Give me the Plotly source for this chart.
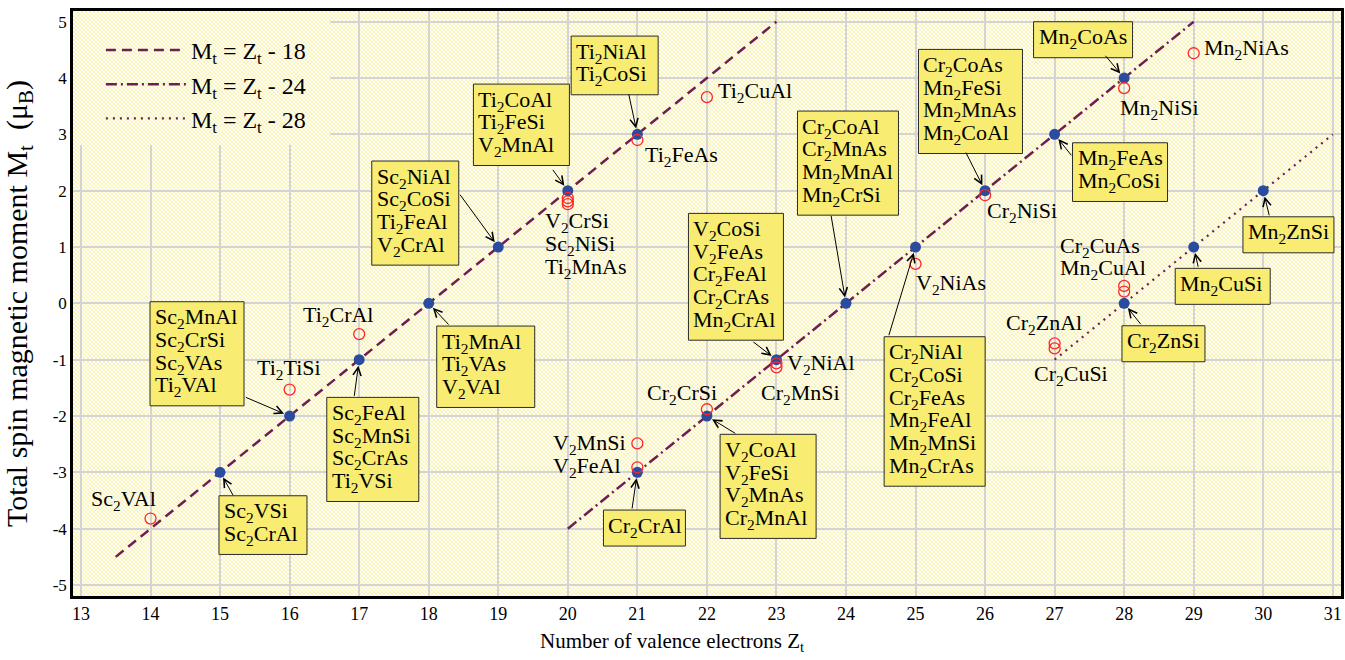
import base64
import plotly.graph_objects as go

# ---------------- data ----------------
# half-metallic compounds following the Slater-Pauling rules (blue dots)
half_z = [15, 16, 17, 18, 19, 20, 21, 21, 22, 23, 24, 25, 26, 27, 28, 28, 29, 30]
half_m = [-3, -2, -1, 0, 1, 2, 3, -3, -2, -1, 0, 1, 2, 3, 4, 0, 1, 2]
half_groups = [
    ["Sc2VSi", "Sc2CrAl"],
    ["Sc2MnAl", "Sc2CrSi", "Sc2VAs", "Ti2VAl"],
    ["Sc2FeAl", "Sc2MnSi", "Sc2CrAs", "Ti2VSi"],
    ["Ti2MnAl", "Ti2VAs", "V2VAl"],
    ["Sc2NiAl", "Sc2CoSi", "Ti2FeAl", "V2CrAl"],
    ["Ti2CoAl", "Ti2FeSi", "V2MnAl"],
    ["Ti2NiAl", "Ti2CoSi"],
    ["Cr2CrAl"],
    ["V2CoAl", "V2FeSi", "V2MnAs", "Cr2MnAl"],
    ["V2CoSi", "V2FeAs", "Cr2FeAl", "Cr2CrAs", "Mn2CrAl"],
    ["Cr2CoAl", "Cr2MnAs", "Mn2MnAl", "Mn2CrSi"],
    ["Cr2NiAl", "Cr2CoSi", "Cr2FeAs", "Mn2FeAl", "Mn2MnSi", "Mn2CrAs"],
    ["Cr2CoAs", "Mn2FeSi", "Mn2MnAs", "Mn2CoAl"],
    ["Mn2FeAs", "Mn2CoSi"],
    ["Mn2CoAs"],
    ["Cr2ZnSi"],
    ["Mn2CuSi"],
    ["Mn2ZnSi"],
]

# compounds deviating from the rule (red open circles)
calc_names = ["Sc2VAl", "Ti2TiSi", "Ti2CrAl", "V2CrSi", "Sc2NiSi", "Ti2MnAs",
              "Ti2FeAs", "Ti2CuAl", "V2MnSi", "V2FeAl", "Cr2CrSi", "V2NiAl",
              "Cr2MnSi", "V2NiAs", "Cr2NiSi", "Mn2NiSi", "Mn2NiAs", "Cr2CuAs",
              "Mn2CuAl", "Cr2ZnAl", "Cr2CuSi"]
calc_z = [14, 16, 17, 20, 20, 20, 21, 22, 21, 21, 22, 23, 23, 25, 26, 28, 29, 28, 28, 27, 27]
calc_m = [-3.82, -1.53, -0.545, 1.87, 1.81, 1.76, 2.90, 3.66, -2.485, -2.91, -1.88,
          -1.065, -1.136, 0.70, 1.92, 3.82, 4.44, 0.31, 0.21, -0.71, -0.80]

# Slater-Pauling lines (end points)
line_names = ["M<sub>t</sub> = Z<sub>t</sub> - 18",
              "M<sub>t</sub> = Z<sub>t</sub> - 24",
              "M<sub>t</sub> = Z<sub>t</sub> - 28"]
line_z = [[13.5, 23.0], [20.0, 29.0], [27.0, 31.0]]
line_m = [[-4.5, 5.0], [-4.0, 5.0], [-1.0, 3.0]]

x_ticks = list(range(13, 32))
y_ticks = list(range(-5, 6))
y_tick_labels = [str(v) for v in y_ticks]

x_title = "Number of valence electrons Z<sub>t</sub>"
y_title = "Total spin magnetic moment M<sub>t</sub>  (μ<sub>B</sub>)"

# ---------------- style ----------------
FONT = "Liberation Serif, Times New Roman, serif"
LINE_COL = "#6e1e52"
BLUE = "#2b4c9e"
RED = "#ff2626"
BOX_FILL = "#f8ed72"
FS = 22          # label font size
LSP = 22.7       # label line spacing (px)
CAP_OFF = 5      # bbox top -> cap top

# box style per half-metal point: dx, dy (top-left, px from point, down +), width, arrow tail dx, dy
box_style = [
    (-1.1, 23.4, 88, 13.9, 24.4),
    (-139.6, -114.3, 94, -45.3, -19.3),
    (-32.4, 37.7, 92, -5.1, 37.7),
    (8.0, 22.7, 98, 21.3, 22.7),
    (-126.5, -86.0, 87, -39.2, -53.7),
    (-94.4, -106.6, 96, -16.0, -22.3),
    (-66.2, -98.3, 87, -8.9, -41.6),
    (-33.9, 37.7, 82, -5.5, 37.7),
    (13.2, 18.3, 96, 29.9, 18.3),
    (-88.0, -146.3, 95, -24.6, -18.9),
    (-48.5, -192.3, 101, -15.1, -89.0),
    (-31.4, 89.7, 101, -27.1, 89.7),
    (-66.6, -141.3, 104, -19.9, -39.6),
    (17.9, 8.4, 95, 17.9, 22.4),
    (-90.6, -56.3, 99, -19.9, -23.7),
    (-2.2, 22.4, 83, 17.8, 22.4),
    (-18.5, 21.3, 95, 4.8, 21.3),
    (-20.3, 26.1, 91, 6.3, 26.1),
]

# plain label offsets per red point: dx, cap-top dy (px, down +)
calc_label_off = [
    (-59.8, -27.8), (-32.9, -29.5), (-55.8, -27.3), (-22.7, 15.3), (-22.7, 34.7),
    (-22.7, 54.5), (7.8, 7.3), (11.5, -13.8), (-83.9, -8.3), (-83.9, -8.9),
    (-60.1, -24.2), (11.0, -8.3), (-15.6, 17.7), (0.6, 11.1), (1.8, 7.6),
    (-3.9, 11.9), (10.5, -13.2), (-63.9, -47.5), (-63.9, -31.5), (-48.4, -28.3),
    (-20.4, 17.6),
]

line_dash = ["10px,6px", "11px,4px,2px,4px", "2px,5px"]
line_width = [2.5, 2.5, 2.2]

W, H = 1345, 660
ML, MR, MT, MB = 73, 4, 11, 64
PW, PH = W - ML - MR, H - MT - MB


def fmt(name):
    return name.replace("2", "<sub>2</sub>", 1)


def pattern_uri(w, h):
    svg = (f'<svg xmlns="http://www.w3.org/2000/svg" width="{w}" height="{h}" '
           f'viewBox="0 0 {w} {h}" preserveAspectRatio="none"><defs>'
           '<pattern id="p" width="4" height="4" patternUnits="userSpaceOnUse">'
           '<rect width="4" height="4" fill="#ffffff"/>'
           '<circle cx="1" cy="1" r="0.75" fill="#f2e442"/>'
           '<circle cx="3" cy="3" r="0.75" fill="#f2e442"/>'
           '</pattern></defs><rect width="100%" height="100%" fill="url(#p)"/></svg>')
    return "data:image/svg+xml;base64," + base64.b64encode(svg.encode()).decode()


fig = go.Figure()

for name, zz, mm, dash, lw in zip(line_names, line_z, line_m, line_dash, line_width):
    fig.add_trace(go.Scatter(x=zz, y=mm, mode="lines", name=name,
                             line=dict(color=LINE_COL, width=lw, dash=dash)))

fig.add_trace(go.Scatter(x=half_z, y=half_m, mode="markers", showlegend=False,
                         marker=dict(color=BLUE, size=11, line=dict(width=0))))
fig.add_trace(go.Scatter(x=calc_z, y=calc_m, mode="markers", showlegend=False,
                         marker=dict(symbol="circle-open", color=RED, size=11,
                                     line=dict(width=1.3, color=RED))))

shapes = []
annotations = []


def add_text(x, y, dx, dy_cap, text):
    annotations.append(dict(
        x=x, y=y, xref="x", yref="y", text=text, showarrow=False,
        xanchor="left", yanchor="top", xshift=dx, yshift=-(dy_cap - CAP_OFF),
        font=dict(family=FONT, size=FS, color="black"),
        borderpad=0, borderwidth=0))


for zz, mm, names, (dx, dy, w, tx, ty) in zip(half_z, half_m, half_groups, box_style):
    n = len(names)
    h = 36 + LSP * (n - 1)
    shapes.append(dict(type="rect", xref="x", yref="y", xsizemode="pixel",
                       ysizemode="pixel", xanchor=zz, yanchor=mm,
                       x0=dx, x1=dx + w, y0=-(dy + h), y1=-dy,
                       fillcolor=BOX_FILL, line=dict(color="#2a2a2a", width=1),
                       layer="above"))
    for i, nm in enumerate(names):
        add_text(zz, mm, dx + 5, dy + 7.5 + i * LSP, fmt(nm))
    annotations.append(dict(
        x=zz, y=mm, xref="x", yref="y", text="", showarrow=True,
        ax=tx, ay=ty, axref="pixel", ayref="pixel",
        arrowhead=5, arrowsize=1.6, arrowwidth=1, arrowcolor="black",
        standoff=6, startstandoff=0))

for nm, zz, mm, (dx, dy) in zip(calc_names, calc_z, calc_m, calc_label_off):
    add_text(zz, mm, dx, dy, fmt(nm))

# x-axis title (sits left of centre in the original)
annotations.append(dict(
    x=0.5, y=0, xref="paper", yref="paper", text=x_title, showarrow=False,
    xanchor="center", yanchor="top", xshift=-35, yshift=-31,
    font=dict(family=FONT, size=21, color="black")))

images = [
    dict(source=pattern_uri(PW, PH), xref="paper", yref="paper", x=0, y=1,
         sizex=1, sizey=1, xanchor="left", yanchor="top", sizing="stretch",
         layer="below"),
    dict(source=pattern_uri(257, 134), xref="paper", yref="paper", x=0, y=1,
         sizex=257 / PW, sizey=134 / PH, xanchor="left", yanchor="top",
         sizing="stretch", layer="above"),
]

fig.update_layout(
    width=W, height=H,
    margin=dict(l=ML, r=MR, t=MT, b=MB, autoexpand=False),
    paper_bgcolor="white", plot_bgcolor="white",
    font=dict(family=FONT, color="black"),
    shapes=shapes, annotations=annotations, images=images,
    legend=dict(x=0.022, y=0.971, xanchor="left", yanchor="top",
                bgcolor="rgba(0,0,0,0)", font=dict(family=FONT, size=24),
                itemwidth=80, tracegroupgap=0),
    xaxis=dict(range=[12.885, 31.118], tickvals=x_ticks, showgrid=True,
               gridcolor="#d4d4d4", gridwidth=2, zeroline=False,
               showline=True, linecolor="black", linewidth=2.5, mirror=True,
               ticks="", tickfont=dict(size=18)),
    yaxis=dict(range=[-5.195, 5.19], tickvals=y_ticks, ticktext=y_tick_labels,
               showgrid=True, gridcolor="#d4d4d4", gridwidth=2, zeroline=False,
               showline=True, linecolor="black", linewidth=2.5, mirror=True,
               ticks="", tickfont=dict(size=17),
               title=dict(text=y_title, font=dict(size=30), standoff=18)),
)

# remove the page's default body margin so the figure fills the window exactly
fig.write_html("out.html",
               config={"displayModeBar": False},
               post_script="document.body.style.margin='0';"
                           "document.body.style.overflow='hidden';")
